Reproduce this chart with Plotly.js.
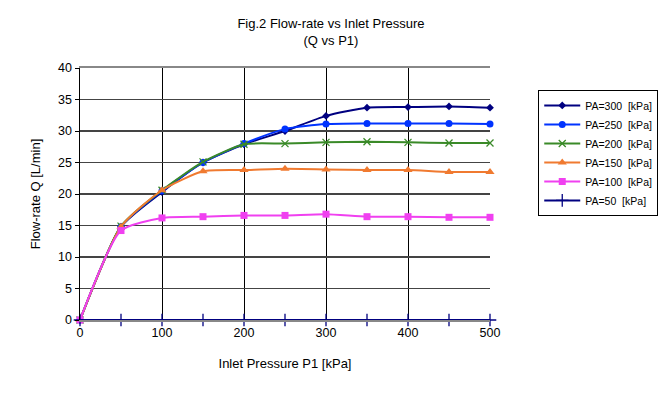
<!DOCTYPE html>
<html>
<head>
<meta charset="utf-8">
<script src="https://cdn.plot.ly/plotly-3.0.1.min.js"></script>
<style>html,body{margin:0;padding:0;background:#fff;}#chart{width:658px;height:396px;}</style>
</head>
<body>
<div id="chart"></div>
<script>
// Data
const pressureP1 = [0, 50, 100, 150, 200, 250, 300, 350, 400, 450, 500];
const seriesNames = ['PA=300\u00a0\u00a0[kPa]', 'PA=250\u00a0\u00a0[kPa]', 'PA=200\u00a0\u00a0[kPa]', 'PA=150\u00a0\u00a0[kPa]', 'PA=100\u00a0\u00a0[kPa]', 'PA=50\u00a0\u00a0[kPa]'];
const qPA300 = [0, 14.8, 20.3, 25.0, 27.9, 30.0, 32.4, 33.7, 33.8, 33.9, 33.7];
const qPA250 = [0, 14.8, 20.5, 25.0, 28.0, 30.3, 31.1, 31.2, 31.2, 31.2, 31.1];
const qPA200 = [0, 14.9, 20.6, 25.1, 27.9, 28.0, 28.2, 28.3, 28.2, 28.1, 28.1];
const qPA150 = [0, 14.8, 20.6, 23.6, 23.8, 24.0, 23.9, 23.8, 23.8, 23.5, 23.5];
const qPA100 = [0, 14.2, 16.2, 16.4, 16.6, 16.6, 16.8, 16.4, 16.4, 16.3, 16.3];
const qPA50  = [0, 0, 0, 0, 0, 0, 0, 0, 0, 0, 0];
const xTicks = [0, 100, 200, 300, 400, 500];
const yTicks = [0, 5, 10, 15, 20, 25, 30, 35, 40];

const seriesValues = [qPA300, qPA250, qPA200, qPA150, qPA100, qPA50];
const styles = [
  {color: '#000080', symbol: 'diamond', size: 6, lw: 0},
  {color: '#0033FF', symbol: 'circle', size: 7, lw: 0},
  {color: '#3A8A28', symbol: 'x-thin', size: 7, lw: 1.3},
  {color: '#F07A30', symbol: 'triangle-up', size: 8, lw: 0},
  {color: '#F040F0', symbol: 'square', size: 7, lw: 0},
  {color: '#000080', symbol: 'cross-thin', size: 9, lw: 1.3}
];

const traces = seriesValues.map((vals, i) => ({
  x: pressureP1,
  y: vals,
  name: seriesNames[i],
  type: 'scatter',
  mode: 'lines+markers',
  line: {color: styles[i].color, width: 2, shape: 'spline', smoothing: 0.6},
  marker: {color: styles[i].color, symbol: styles[i].symbol, size: styles[i].size,
           line: {color: styles[i].color, width: styles[i].lw}},
  cliponaxis: false
}));

const font = {family: 'Liberation Sans, Arial, sans-serif', color: '#000'};

const layout = {
  width: 658, height: 396,
  margin: {l: 80, r: 168, t: 68, b: 76, autoexpand: false},
  paper_bgcolor: '#fff', plot_bgcolor: '#fff',
  font: Object.assign({size: 12}, font),
  title: {
    text: 'Fig.2 Flow-rate vs Inlet Pressure<br>(Q vs P1)',
    font: Object.assign({size: 13}, font),
    xref: 'container', x: 0.503, xanchor: 'center',
    yref: 'container', y: 0.93, yanchor: 'top'
  },
  xaxis: {
    range: [0, 500],
    tickvals: xTicks,
    showgrid: true, gridcolor: '#000', gridwidth: 1,
    zeroline: false,
    showline: true, linecolor: '#888', linewidth: 2, mirror: true,
    ticks: '', ticklen: 0,
    tickfont: Object.assign({size: 12.5}, font),
    title: {text: 'Inlet Pressure P1 [kPa]', font: Object.assign({size: 13}, font), standoff: 20},
    automargin: false
  },
  yaxis: {
    range: [0, 40],
    tickvals: yTicks,
    showgrid: true, gridcolor: '#444', gridwidth: 1.5,
    zeroline: false,
    showline: true, linecolor: '#000', linewidth: 1.5,
    ticks: 'outside', ticklen: 4, tickcolor: '#000',
    tickfont: Object.assign({size: 12.5}, font),
    title: {text: 'Flow-rate Q [L/min]', font: Object.assign({size: 13}, font), standoff: 14},
    automargin: false
  },
  showlegend: true,
  legend: {
    xref: 'container', x: 0.818, xanchor: 'left', y: 0.913, yanchor: 'top',
    bordercolor: '#000', borderwidth: 1, bgcolor: '#fff',
    font: Object.assign({size: 10.5}, font),
    tracegroupgap: 0, itemwidth: 36
  }
};

Plotly.newPlot('chart', traces, layout, {displayModeBar: false, staticPlot: true});
</script>
</body>
</html>
